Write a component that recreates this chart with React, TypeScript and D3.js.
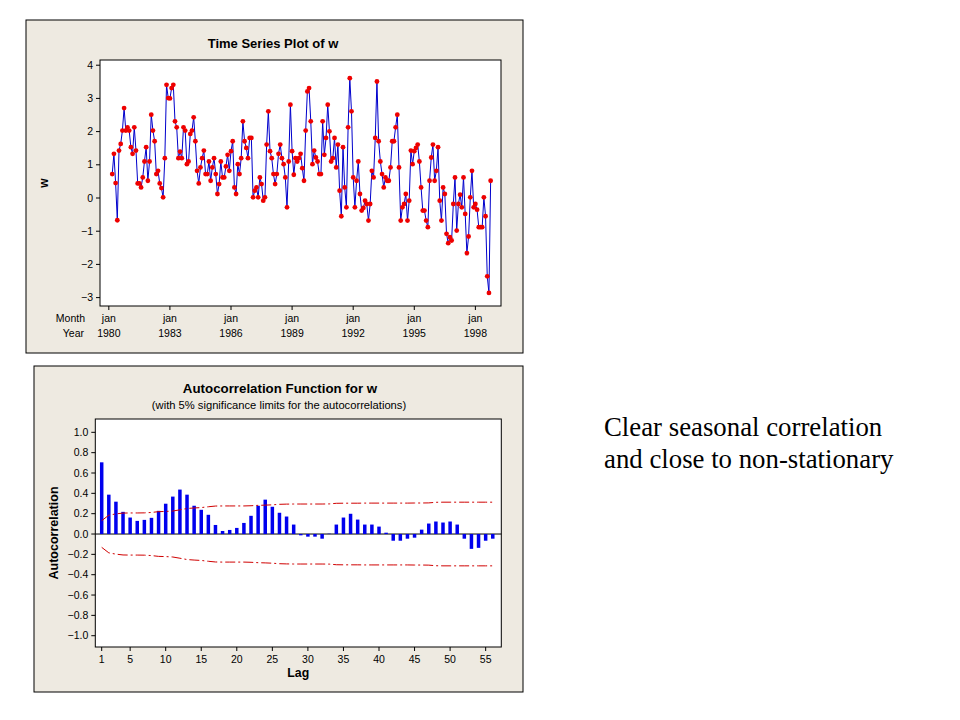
import React from 'react';
import * as d3 from 'd3';

// monthly series w, first observation March 1980
const wValues = [
  0.72, 1.33, 0.45, -0.67, 1.43, 1.63, 2.03, 2.71, 2.03, 2.13,
  2.03, 1.53, 1.33, 2.13, 1.43, 0.44, 0.44, 0.32, 0.62, 1.10,
  1.53, 0.52, 1.10, 2.51, 2.03, 1.71, 0.72, 0.82, 0.44, 0.30,
  0.02, 1.20, 3.41, 3.01, 3.00, 3.31, 3.41, 2.31, 2.13, 1.20,
  1.40, 1.20, 2.13, 2.03, 1.02, 1.10, 1.93, 2.03, 2.43, 1.71,
  0.82, 0.44, 0.92, 1.20, 1.43,
  0.72, 0.72, 1.10, 0.52, 0.92, 1.20, 0.72, 0.12, 0.42, 1.10, 0.62, 0.62, 0.95,
  1.30, 0.82, 1.41, 1.71, 0.32, 0.12, 1.02, 0.72, 1.20, 2.31,
  1.71, 1.51, 1.20, 1.81, 1.81, 0.02, 0.22, 0.32, 0.02, 0.62,
  0.42, -0.08, 0.02, 1.61, 2.61, 1.41, 1.20, 0.72, 0.42, 0.72,
  1.33, 1.61, 1.20, 1.02, 0.62, -0.28, 1.10, 2.81, 1.41, 0.70,
  1.20, 1.10, 1.20, 1.33, 0.90,
  0.52, 2.03, 3.21, 3.31, 2.31, 1.02, 1.43, 1.22, 1.10, 0.72,
  0.72, 2.31, 1.30, 1.81, 2.81, 2.01, 1.10, 1.20, 1.81, 0.92,
  1.61, 0.22, -0.55, 1.53, 0.32, -0.28, 2.13, 3.61, 2.61, 0.62,
  -0.28, 0.52, 1.10, 0.12, -0.38, -0.30, -0.08, -0.18, -0.68, -0.18,
  0.82, 0.62, 1.81, 3.51, 1.71, 1.10, 0.72, 0.32, 0.62, 0.52,
  0.52, 0.92, 1.71, 1.71, 2.13, 2.51, 0.92, -0.68, -0.28,
  -0.18, 0.12, -0.68, -0.08, 1.43, 1.02, 1.41, 1.51, 1.61, 1.10,
  0.32, -0.38, -0.38, -0.68, -0.88, 0.52, 1.22, 1.61, 0.52, 0.82,
  1.53, -0.08, -0.68, 0.32, 0.12, -1.08, -1.36, -1.18, -1.28, -0.18,
  0.62, -0.98, -0.18, 0.10, -0.28, 0.62, -0.48, -1.66, -1.16, 0.02,
  0.82, -0.28, -0.18, -0.35, -0.88, -0.88, -0.88, 0.02, -0.55, -2.36,
  -2.86, 0.52,
];
const startYear = 1980;
const startMonth = 3;
const tickYears = [1980, 1983, 1986, 1989, 1992, 1995, 1998];
const tickMonth = 'jan';
const wTicks = [-3, -2, -1, 0, 1, 2, 3, 4];

// autocorrelations, lag 1..56
const acfValues = [
  0.705, 0.387, 0.318, 0.218, 0.162, 0.129, 0.139, 0.159, 0.228, 0.298,
  0.368, 0.437, 0.387, 0.278, 0.238, 0.189, 0.089, 0.030, 0.040, 0.060,
  0.109, 0.179, 0.278, 0.338, 0.268, 0.209, 0.172, 0.093, -0.013, -0.026,
  -0.026, -0.046, 0.003, 0.093, 0.162, 0.199, 0.142, 0.093, 0.093, 0.073,
  0.013, -0.066, -0.066, -0.046, -0.036, 0.043, 0.103, 0.123, 0.113, 0.123,
  0.093, -0.046, -0.146, -0.136, -0.066, -0.046,
];
// 5% significance limit (upper; lower is the negative)
const acfLimits = [
  0.131, 0.185, 0.198, 0.206, 0.207, 0.207, 0.208, 0.212, 0.220, 0.222,
  0.226, 0.238, 0.251, 0.256, 0.260, 0.268, 0.275, 0.276, 0.276, 0.276,
  0.276, 0.278, 0.282, 0.284, 0.287, 0.292, 0.294, 0.295, 0.295, 0.295,
  0.295, 0.295, 0.296, 0.302, 0.303, 0.303, 0.303, 0.304, 0.304, 0.304,
  0.304, 0.304, 0.304, 0.304, 0.305, 0.305, 0.306, 0.312, 0.313, 0.313,
  0.313, 0.313, 0.313, 0.313, 0.313, 0.313,
];
const acfTicks = [-1, -0.8, -0.6, -0.4, -0.2, 0, 0.2, 0.4, 0.6, 0.8, 1];
const lagTicks = [1, 5, 10, 15, 20, 25, 30, 35, 40, 45, 50, 55];

const FONT = '"Liberation Sans", Arial, sans-serif';
const PANEL_BG = '#EEEAE1';

function TimeSeriesPanel() {
  const left = 100, right = 501, top = 60, bottom = 306;
  const offset = startMonth - 1;
  const x = d3.scaleLinear().domain([-7.2, 229.1]).range([left, right]);
  const y = d3.scaleLinear().domain([-3.253, 4.157]).range([bottom, top]);
  const line = d3.line<number>().x((_, i) => x(i)).y(d => y(d));
  const tickIdx = tickYears.map(yr => (yr - startYear) * 12 - offset);

  return (
    <g fontFamily={FONT}>
      <rect x={26} y={20} width={497} height={333} fill={PANEL_BG} stroke="#000" />
      <text x={273} y={48} textAnchor="middle" fontSize={13} fontWeight="bold">Time Series Plot of w</text>
      <rect x={left} y={top} width={right - left} height={bottom - top} fill="#fff" stroke="#000" />
      {wTicks.map(t => (
        <g key={t}>
          <line x1={left - 4} x2={left} y1={y(t)} y2={y(t)} stroke="#000" />
          <text x={left - 7} y={y(t) + 3.5} textAnchor="end" fontSize={10.5}>{d3.format('d')(t)}</text>
        </g>
      ))}
      <text transform={`translate(48,${(top + bottom) / 2}) rotate(-90)`} textAnchor="middle" fontSize={12} fontWeight="bold">w</text>
      {tickIdx.map((ti, k) => (
        <g key={k}>
          <line x1={x(ti)} x2={x(ti)} y1={bottom} y2={bottom + 4} stroke="#000" />
          <text x={x(ti)} y={322} textAnchor="middle" fontSize={10.5}>{tickMonth}</text>
          <text x={x(ti)} y={337} textAnchor="middle" fontSize={10.5}>{tickYears[k]}</text>
        </g>
      ))}
      <text x={85} y={322} textAnchor="end" fontSize={10.5}>Month</text>
      <text x={84} y={337} textAnchor="end" fontSize={10.5}>Year</text>
      <path d={line(wValues) || ''} fill="none" stroke="#0000cc" strokeWidth={1} />
      {wValues.map((v, i) => (
        <circle key={i} cx={x(i)} cy={y(v)} r={2.4} fill="#ee0000" />
      ))}
    </g>
  );
}

function AcfPanel() {
  const left = 95.3, right = 501.3, top = 419, bottom = 647;
  const x = d3.scaleLinear().domain([0.1, 57.2]).range([left, right]);
  const y = d3.scaleLinear().domain([-1.111, 1.131]).range([bottom, top]);
  const lags = acfValues.map((_, i) => i + 1);
  const upper = d3.line<number>().x((_, i) => x(lags[i])).y(d => y(d));
  const lower = d3.line<number>().x((_, i) => x(lags[i])).y(d => y(-d));

  return (
    <g fontFamily={FONT}>
      <rect x={34} y={366} width={489} height={326} fill={PANEL_BG} stroke="#000" />
      <text x={280} y={393} textAnchor="middle" fontSize={13.3} fontWeight="bold">Autocorrelation Function for w</text>
      <text x={279} y={409} textAnchor="middle" fontSize={11.2}>(with 5% significance limits for the autocorrelations)</text>
      <rect x={left} y={top} width={right - left} height={bottom - top} fill="#fff" stroke="#000" />
      {acfTicks.map(t => (
        <g key={t}>
          <line x1={left - 4} x2={left} y1={y(t)} y2={y(t)} stroke="#000" />
          <text x={left - 7} y={y(t) + 3.5} textAnchor="end" fontSize={10.5}>{d3.format('.1f')(t)}</text>
        </g>
      ))}
      <text transform={`translate(58,${(top + bottom) / 2}) rotate(-90)`} textAnchor="middle" fontSize={12.5} fontWeight="bold">Autocorrelation</text>
      {lagTicks.map(t => (
        <g key={t}>
          <line x1={x(t)} x2={x(t)} y1={bottom} y2={bottom + 4} stroke="#000" />
          <text x={x(t)} y={663} textAnchor="middle" fontSize={10.5}>{t}</text>
        </g>
      ))}
      <text x={(left + right) / 2} y={677} textAnchor="middle" fontSize={12.3} fontWeight="bold">Lag</text>
      <line x1={left} x2={right} y1={y(0)} y2={y(0)} stroke="#000" />
      {acfValues.map((v, i) => (
        <rect key={i} x={x(lags[i]) - 1.75} width={3.5}
          y={Math.min(y(v), y(0))} height={Math.abs(y(v) - y(0))} fill="#0000ee" />
      ))}
      <path d={upper(acfLimits) || ''} fill="none" stroke="#d00000" strokeDasharray="10,3,2,3" />
      <path d={lower(acfLimits) || ''} fill="none" stroke="#d00000" strokeDasharray="10,3,2,3" />
    </g>
  );
}

export default function App() {
  return (
    <div style={{ position: 'absolute', left: 0, top: 0 }}>
      <svg width={960} height={720} style={{ display: 'block', background: '#fff' }}>
        <TimeSeriesPanel />
        <AcfPanel />
        <g fontFamily='"Liberation Serif", "Times New Roman", serif' fontSize={26.8}>
          <text x={604} y={436}>Clear seasonal correlation</text>
          <text x={604} y={468}>and close to non-stationary</text>
        </g>
      </svg>
    </div>
  );
}
